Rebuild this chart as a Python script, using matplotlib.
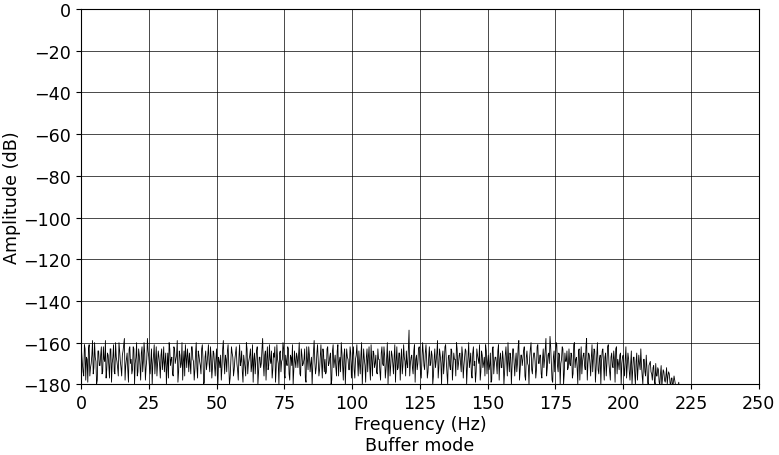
import numpy as np
import matplotlib
matplotlib.use("Agg")
import matplotlib.pyplot as plt

# amplitude spectrum, one value every 0.5 Hz from 0 Hz
freq_step = 0.5
amp_db = [
    -158, -170, -176, -163, -167, -179, -161, -172, -166, -175, -160, -169, -178, -164, -171, -162, -174, -168, -159, -173,
    -166, -177, -163, -170, -161, -175, -167, -172, -160, -169, -176, -164, -158, -171, -165, -179, -162, -168, -173, -163,
    -170, -160, -174, -166, -178, -162, -169, -165, -172, -158, -167, -175, -163, -170, -161, -168, -176, -164, -171, -166,
    -173, -162, -169, -180, -165, -160, -171, -167, -176, -163, -168, -159, -174, -166, -170, -178, -164, -161, -172, -167,
    -165, -175, -162, -169, -173, -160, -177, -166, -171, -163, -168, -179, -164, -170, -161, -174, -167, -172, -165, -176,
    -163, -180, -169, -166, -172, -159, -175, -168, -164, -171, -177, -162, -167, -173, -165, -170, -178, -161, -169, -174,
    -166, -172, -160, -175, -168, -163, -171, -179, -165, -169, -162, -174, -167, -170, -158, -176, -164, -168, -173, -161,
    -170, -177, -165, -162, -172, -168, -180, -164, -169, -160, -175, -166, -171, -163, -178, -167, -161, -173, -169, -165,
    -172, -160, -176, -166, -170, -163, -179, -168, -162, -174, -167, -171, -159, -175, -165, -169, -173, -161, -177, -166,
    -168, -174, -162, -170, -165, -178, -161, -169, -172, -164, -176, -167, -160, -171, -166, -180, -163, -168, -173, -165,
    -170, -162, -177, -166, -169, -164, -175, -160, -171, -168, -179, -163, -167, -172, -161, -176, -165, -170, -174, -163,
    -168, -178, -162, -171, -166, -173, -160, -169, -176, -164, -170, -167, -179, -162, -172, -165, -168, -175, -161, -169,
    -164, -172, -154, -170, -166, -175, -161, -168, -173, -163, -169, -177, -160, -171, -165, -168, -174, -162, -170, -166,
    -176, -163, -169, -159, -172, -166, -180, -164, -170, -161, -175, -167, -171, -163, -178, -165, -168, -160, -173, -166,
    -170, -162, -177, -167, -164, -172, -160, -169, -175, -165, -171, -179, -163, -168, -161, -174, -166, -170, -176, -164,
    -169, -173, -165, -178, -162, -170, -167, -175, -161, -168, -172, -164, -180, -166, -169, -160, -174, -167, -171, -163,
    -176, -165, -170, -159, -173, -166, -168, -162, -178, -164, -171, -167, -160, -175, -165, -169, -173, -161, -170, -166,
    -177, -163, -168, -158, -172, -165, -157, -170, -179, -164, -167, -161, -174, -166, -170, -162, -180, -165, -169, -173,
    -163, -171, -166, -175, -160, -168, -172, -164, -178, -162, -169, -165, -173, -158, -170, -166, -176, -161, -168, -164,
    -172, -160, -175, -166, -169, -163, -178, -165, -170, -161, -174, -167, -171, -164, -179, -162, -168, -173, -165, -170,
    -166, -176, -162, -171, -168, -178, -164, -173, -167, -180, -165, -172, -170, -163, -176, -168, -174, -166, -179, -171,
    -169, -175, -172, -178, -170, -176, -173, -180, -171, -177, -174, -179, -172, -176, -175, -181, -177, -179, -178, -182,
    -180, -179, -183, -185,
]
# the bins in between (0.25 Hz, 0.75 Hz, ...)
amp_db_mid = [
    -165, -174, -161, -178, -168, -163, -176, -170, -159, -172, -167, -180, -164, -171, -166, -175, -162, -169, -177, -165,
    -171, -163, -179, -167, -174, -160, -169, -176, -164, -172, -166, -161, -178, -168, -173, -163, -170, -175, -162, -180,
    -167, -176, -163, -171, -165, -174, -160, -178, -168, -164, -172, -169, -180, -166, -175, -162, -170, -167, -177, -163,
    -169, -174, -165, -171, -177, -163, -168, -175, -162, -170, -166, -179, -164, -172, -160, -169, -176, -167, -163, -174,
    -170, -162, -168, -178, -165, -172, -164, -169, -175, -161, -180, -167, -173, -166, -170, -162, -177, -164, -171, -168,
    -175, -167, -172, -178, -163, -169, -166, -174, -161, -180, -170, -165, -176, -168, -162, -173, -167, -171, -164, -179,
    -169, -176, -163, -170, -166, -174, -161, -168, -175, -164, -180, -167, -172, -163, -170, -166, -178, -162, -171, -168,
    -164, -173, -167, -179, -161, -170, -165, -174, -168, -163, -177, -169, -162, -175, -166, -171, -180, -164, -172, -167,
    -166, -175, -163, -171, -168, -177, -162, -173, -166, -170, -180, -164, -169, -172, -161, -176, -167, -170, -163, -174,
    -175, -163, -171, -167, -180, -164, -172, -166, -176, -161, -169, -174, -165, -178, -163, -170, -167, -173, -162, -177,
    -165, -173, -168, -161, -176, -170, -166, -180, -163, -171, -167, -174, -162, -178, -169, -164, -172, -166, -175, -168,
    -174, -165, -170, -162, -177, -167, -180, -164, -171, -166, -175, -161, -169, -173, -165, -178, -163, -171, -167, -176,
    -170, -163, -176, -167, -172, -164, -179, -166, -170, -162, -175, -168, -165, -173, -161, -177, -167, -171, -164, -180,
    -168, -172, -165, -177, -163, -170, -167, -175, -162, -169, -180, -166, -173, -164, -171, -168, -176, -163, -170, -165,
    -174, -166, -171, -163, -180, -167, -172, -165, -177, -162, -169, -174, -166, -170, -178, -164, -172, -167, -161, -175,
    -166, -171, -179, -163, -175, -167, -170, -164, -178, -165, -172, -168, -174, -162, -176, -169, -165, -180, -163, -170,
    -169, -174, -162, -178, -166, -171, -164, -176, -167, -170, -180, -163, -173, -168, -165, -177, -162, -170, -166, -175,
    -168, -172, -163, -176, -166, -170, -162, -178, -167, -174, -160, -171, -165, -180, -168, -163, -175, -169, -164, -172,
    -170, -165, -177, -161, -172, -167, -180, -163, -169, -175, -166, -171, -162, -178, -165, -170, -167, -174, -163, -179,
    -166, -173, -168, -180, -164, -171, -167, -176, -162, -170, -178, -165, -172, -168, -163, -175, -170, -166, -180, -167,
    -172, -168, -177, -165, -174, -170, -180, -167, -175, -169, -178, -166, -173, -171, -180, -168, -176, -172, -181, -170,
    -174, -178, -171, -180, -176, -172, -179, -175, -181, -173, -178, -176, -180, -174, -179, -177, -182, -176, -180, -183,
    -181, -184, -182, -186,
]

freqs = np.arange(len(amp_db)) * freq_step
freqs_all = np.column_stack([freqs, freqs + freq_step / 2]).ravel()
amp_all = np.column_stack([amp_db, amp_db_mid]).ravel()

fig, ax = plt.subplots(figsize=(7.79, 4.56), dpi=100)
ax.plot(freqs_all, amp_all, color="black", linewidth=0.6)
ax.set_xlim(0, 250)
ax.set_ylim(-180, 0)
ax.set_xticks(np.arange(0, 251, 25))
ax.set_yticks(np.arange(-180, 1, 20))
ax.grid(True, color="black", linewidth=0.5)
ax.tick_params(labelsize=12.6)
ax.set_xlabel("Frequency (Hz)\nBuffer mode", fontsize=12.6, labelpad=2)
ax.set_ylabel("Amplitude (dB)", fontsize=12.6, labelpad=2)
fig.subplots_adjust(left=0.104, right=0.974, top=0.978, bottom=0.155)
fig.savefig("out.png")
